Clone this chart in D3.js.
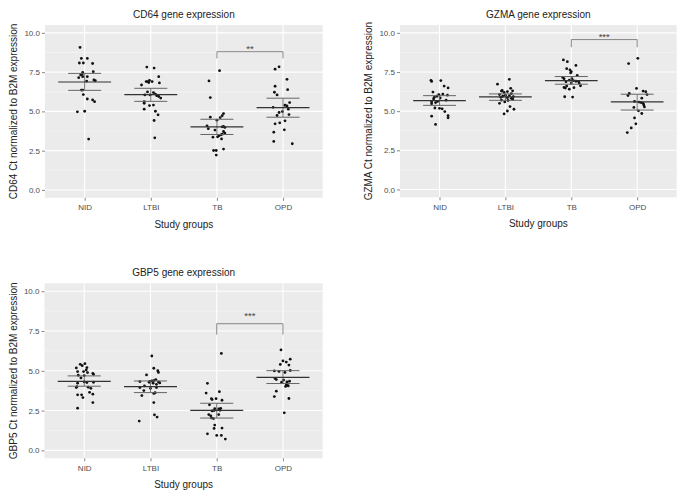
<!DOCTYPE html>
<html><head><meta charset="utf-8">
<script src="https://cdn.jsdelivr.net/npm/d3@7/dist/d3.min.js"></script>
<style>
body{margin:0;background:#fff;}
svg{display:block;font-family:"Liberation Sans",Arial,Helvetica,sans-serif;}
</style>
</head><body>
<svg id="chart" width="690" height="501"></svg>
<script>
// ---------- data (value, horizontal jitter in category steps) ----------
const categories = ["NID", "LTBI", "TB", "OPD"];
const yTicks = [0, 2.5, 5, 7.5, 10];
const yMinorTicks = [1.25, 3.75, 6.25, 8.75];

const cd64NID = [[9.07,-0.07],[8.37,-0.05],[8.37,0.04],[8.08,-0.08],[8.08,-0.02],[8.05,0.12],[7.53,0.13],[7.48,-0.03],[7.36,-0.04],[7.32,-0.06],[7.21,-0.03],[7.21,0.04],[7.15,-0.09],[7.00,0.14],[6.96,0.16],[6.93,0.03],[6.36,-0.05],[6.36,-0.03],[6.07,-0.02],[5.79,0.04],[5.73,0.12],[5.62,0.15],[4.97,-0.11],[5.01,0.0],[3.24,0.06]];
const cd64LTBI = [[7.82,-0.06],[7.76,0.05],[7.21,0.12],[6.68,-0.14],[6.90,-0.07],[6.90,-0.05],[6.98,-0.02],[6.90,0.02],[6.84,-0.03],[6.81,0.13],[6.24,-0.05],[6.05,-0.09],[6.05,-0.01],[6.20,0.04],[6.10,0.07],[6.00,0.09],[5.95,0.12],[5.85,0.15],[5.62,-0.10],[5.52,-0.10],[5.37,-0.02],[5.40,0.04],[5.14,-0.10],[5.01,0.07],[4.78,0.11],[4.42,0.05],[3.32,0.06]];
const cd64TB = [[7.59,0.04],[6.94,-0.12],[5.88,-0.10],[4.86,0.10],[4.73,0.08],[4.61,0.05],[4.63,-0.10],[4.44,0.0],[4.08,-0.15],[4.04,0.10],[4.02,0.08],[3.98,0.12],[3.90,-0.13],[3.81,-0.03],[3.72,0.10],[3.62,0.12],[3.55,0.08],[3.51,0.06],[3.45,0.03],[3.36,-0.06],[3.38,0.01],[3.25,0.07],[2.60,0.10],[2.51,-0.05],[2.51,-0.01],[2.22,-0.01]];
const cd64OPD = [[7.69,-0.12],[7.84,-0.06],[7.04,0.06],[6.60,-0.12],[6.38,0.07],[6.22,-0.13],[6.05,-0.09],[5.56,0.10],[5.39,0.03],[5.35,0.06],[5.26,-0.15],[5.14,0.08],[4.99,-0.01],[4.93,-0.06],[4.80,0.09],[4.74,-0.09],[4.40,0.03],[4.27,-0.05],[4.21,-0.12],[3.83,0.02],[3.68,-0.14],[3.09,-0.14],[2.94,0.14]];
const cd64Mean = [6.87, 6.07, 4.02, 5.24];
const cd64Lower = [6.34, 5.64, 3.53, 4.63];
const cd64Upper = [7.42, 6.47, 4.50, 5.84];

const gzmaNID = [[6.97,-0.13],[6.90,-0.12],[6.95,0.02],[6.60,0.07],[6.48,0.13],[6.22,-0.10],[6.06,-0.01],[6.09,0.05],[6.02,0.12],[5.88,-0.08],[5.78,-0.09],[5.84,0.01],[5.95,-0.04],[5.70,0.10],[5.60,-0.12],[5.48,-0.12],[5.55,-0.06],[5.62,-0.03],[5.20,-0.07],[5.18,0.0],[5.15,0.04],[4.97,0.08],[4.68,-0.12],[4.72,0.13],[4.58,0.13],[4.15,-0.06]];
const gzmaLTBI = [[7.03,0.06],[6.72,-0.12],[6.46,0.08],[6.32,-0.05],[6.28,-0.06],[6.30,0.11],[6.25,0.03],[6.20,-0.02],[6.12,0.09],[6.06,-0.09],[6.02,0.0],[5.99,0.06],[5.95,-0.04],[5.93,0.12],[5.88,-0.07],[5.86,0.03],[5.82,0.09],[5.76,0.11],[5.70,-0.06],[5.68,0.04],[5.59,-0.01],[5.50,-0.09],[5.29,0.07],[5.12,0.13],[5.01,0.03],[4.82,-0.02]];
const gzmaTB = [[8.27,-0.12],[8.16,-0.06],[7.92,0.07],[7.71,-0.07],[7.63,-0.02],[7.52,0.0],[7.44,-0.01],[7.28,0.09],[7.15,-0.13],[7.07,-0.11],[7.07,0.01],[6.98,-0.03],[6.95,0.03],[6.91,0.07],[6.88,-0.08],[6.79,0.0],[6.90,0.11],[6.79,0.12],[6.60,-0.07],[6.51,-0.11],[6.47,-0.09],[6.50,0.04],[6.62,0.14],[6.40,-0.03],[5.92,-0.10],[5.90,0.02]];
const gzmaOPD = [[8.37,0.01],[8.04,-0.13],[6.45,-0.01],[6.28,0.09],[6.24,0.13],[6.13,-0.12],[6.00,-0.14],[6.06,0.15],[5.83,0.07],[5.62,-0.04],[5.58,0.03],[5.55,0.06],[5.50,0.09],[5.40,0.10],[5.27,0.11],[5.24,-0.05],[5.02,0.02],[4.85,0.07],[4.57,-0.04],[4.19,-0.02],[3.93,-0.09],[3.63,-0.15]];
const gzmaMean = [5.67, 5.91, 6.95, 5.59];
const gzmaLower = [5.37, 5.69, 6.72, 5.07];
const gzmaUpper = [5.99, 6.10, 7.21, 6.08];

const gbp5NID = [[5.45,0.01],[5.41,-0.06],[5.32,-0.03],[5.18,-0.12],[5.20,0.04],[5.05,0.03],[4.95,-0.10],[4.95,-0.01],[4.89,0.05],[4.84,0.13],[4.78,0.14],[4.72,-0.09],[4.70,0.0],[4.55,-0.05],[4.30,0.0],[4.28,0.14],[4.22,-0.10],[4.26,0.04],[3.97,0.06],[4.00,-0.11],[3.95,-0.12],[3.90,0.10],[3.65,0.08],[3.49,-0.10],[3.49,-0.04],[3.53,0.13],[3.32,-0.02],[3.00,0.13],[2.65,-0.10]];
const gbp5LTBI = [[5.93,0.02],[5.16,0.05],[5.01,0.11],[4.90,0.12],[4.74,-0.06],[4.45,0.08],[4.38,0.05],[4.32,-0.16],[4.33,-0.01],[4.36,0.02],[4.28,-0.02],[4.30,0.12],[4.24,0.14],[4.22,0.04],[4.15,0.09],[4.05,-0.09],[3.95,-0.16],[3.95,0.09],[3.90,0.0],[3.76,-0.10],[3.62,0.07],[3.58,0.05],[3.44,-0.13],[3.00,0.05],[2.23,0.06],[2.09,0.10],[1.84,-0.17]];
const gbp5TB = [[6.09,0.07],[4.21,-0.14],[3.69,0.04],[3.60,-0.16],[3.25,-0.08],[3.19,-0.07],[3.25,-0.01],[3.15,0.08],[2.86,-0.11],[2.62,-0.03],[2.60,0.03],[2.64,0.06],[2.52,0.05],[2.48,-0.07],[2.50,-0.04],[2.25,-0.12],[2.17,-0.09],[2.04,-0.08],[2.25,0.03],[2.00,-0.05],[1.59,-0.03],[1.38,-0.04],[1.40,0.08],[1.04,-0.14],[0.94,0.0],[0.94,0.07],[0.71,0.13]];
const gbp5OPD = [[6.31,-0.03],[5.73,0.11],[5.62,0.0],[5.55,0.05],[5.40,-0.04],[5.36,0.09],[5.02,0.11],[4.99,-0.13],[4.96,-0.06],[4.90,0.03],[4.52,-0.12],[4.45,-0.10],[4.42,0.01],[4.35,0.10],[4.28,-0.02],[4.30,0.06],[4.20,0.07],[4.10,0.05],[4.05,0.08],[4.02,0.04],[3.72,-0.10],[3.38,-0.13],[3.26,0.09],[2.36,0.02]];
const gbp5Mean = [4.34, 4.01, 2.51, 4.59];
const gbp5Lower = [4.03, 3.63, 2.03, 4.20];
const gbp5Upper = [4.68, 4.36, 2.96, 5.01];

const sigPairs = [["TB","OPD"],["TB","OPD"],["TB","OPD"]];
const sigLabels = ["**", "***", "***"];
const sigHigh = [8.80, 9.57, 7.96];
const sigLow = [8.37, 9.08, 7.27];

const titles = ["CD64 gene expression", "GZMA gene expression", "GBP5 gene expression"];
const yTitles = ["CD64 Ct normalized to B2M expression", "GZMA Ct normalized to B2M expression", "GBP5 Ct normalized to B2M expression"];
const xTitle = "Study groups";

// ---------- drawing ----------
const svg = d3.select("#chart");
svg.append("rect").attr("width",690).attr("height",501).attr("fill","#fff");

const panels = [
  {left:45, right:322.7, top:25, bottom:197.8, groups:[cd64NID,cd64LTBI,cd64TB,cd64OPD], mean:cd64Mean, lo:cd64Lower, hi:cd64Upper, starLift:1.5},
  {left:400, right:676.7, top:25, bottom:197.3, groups:[gzmaNID,gzmaLTBI,gzmaTB,gzmaOPD], mean:gzmaMean, lo:gzmaLower, hi:gzmaUpper, starLift:1.5},
  {left:44.5, right:322.7, top:283.3, bottom:458.3, groups:[gbp5NID,gbp5LTBI,gbp5TB,gbp5OPD], mean:gbp5Mean, lo:gbp5Lower, hi:gbp5Upper, starLift:6}
];

panels.forEach((p, i) => {
  const g = svg.append("g");
  const x = d3.scalePoint().domain(categories).range([p.left, p.right]).padding(0.6);
  const y = d3.scaleLinear().domain([-0.5, 10.5]).range([p.bottom, p.top]);
  const step = x.step();

  g.append("rect").attr("x",p.left).attr("y",p.top)
    .attr("width",p.right-p.left).attr("height",p.bottom-p.top).attr("fill","#EBEBEB");

  g.selectAll(".minor").data(yMinorTicks).enter().append("line")
    .attr("x1",p.left).attr("x2",p.right).attr("y1",d=>y(d)).attr("y2",d=>y(d))
    .attr("stroke","#F7F7F7").attr("stroke-width",0.6);
  g.selectAll(".major").data(yTicks).enter().append("line")
    .attr("x1",p.left).attr("x2",p.right).attr("y1",d=>y(d)).attr("y2",d=>y(d))
    .attr("stroke","#fff").attr("stroke-width",1.1);
  g.selectAll(".vmajor").data(categories).enter().append("line")
    .attr("y1",p.top).attr("y2",p.bottom).attr("x1",d=>x(d)).attr("x2",d=>x(d))
    .attr("stroke","#fff").attr("stroke-width",1.1);

  // axes
  const ya = g.append("g").attr("transform",`translate(${p.left},0)`)
    .call(d3.axisLeft(y).tickValues(yTicks).tickFormat(d3.format(".1f")).tickSize(3).tickPadding(2));
  const xa = g.append("g").attr("transform",`translate(0,${p.bottom})`)
    .call(d3.axisBottom(x).tickSize(3).tickPadding(4));
  [ya, xa].forEach(a => {
    a.select(".domain").remove();
    a.selectAll(".tick line").attr("stroke","#555").attr("stroke-width",0.7);
    a.selectAll(".tick text").attr("fill","#4D4D4D").attr("font-size","8px")
      .attr("font-family","'Liberation Sans',Arial,sans-serif");
  });

  // points
  p.groups.forEach((pts, k) => {
    g.selectAll(null).data(pts).enter().append("circle")
      .attr("cx", d => x(categories[k]) + d[1]*step)
      .attr("cy", d => y(d[0]))
      .attr("r", 1.4).attr("fill","#111");
  });

  // summary bars
  categories.forEach((c, k) => {
    const cx = x(c);
    g.append("line").attr("x1",cx).attr("x2",cx).attr("y1",y(p.lo[k])).attr("y2",y(p.hi[k]))
      .attr("stroke","#666").attr("stroke-width",0.9);
    [p.lo[k], p.hi[k]].forEach(v => {
      g.append("line").attr("x1",cx-0.25*step).attr("x2",cx+0.25*step)
        .attr("y1",y(v)).attr("y2",y(v)).attr("stroke","#666").attr("stroke-width",1);
    });
    g.append("line").attr("x1",cx-0.4*step).attr("x2",cx+0.4*step)
      .attr("y1",y(p.mean[k])).attr("y2",y(p.mean[k])).attr("stroke","#333").attr("stroke-width",1.2);
  });

  // significance bracket
  const x1 = x(sigPairs[i][0]), x2 = x(sigPairs[i][1]);
  g.append("path")
    .attr("d", `M${x1},${y(sigLow[i])}V${y(sigHigh[i])}H${x2}V${y(sigLow[i])}`)
    .attr("fill","none").attr("stroke","#7a7a7a").attr("stroke-width",0.9);
  g.append("text").attr("x",(x1+x2)/2).attr("y",y(sigHigh[i]) + 1.5 - p.starLift)
    .attr("text-anchor","middle").attr("font-size","9.5px").attr("fill","#444").text(sigLabels[i]);

  // titles
  const cxp = (p.left+p.right)/2;
  g.append("text").attr("x",cxp).attr("y",p.top-7).attr("text-anchor","middle")
    .attr("font-size","10px").attr("fill","#222").text(titles[i]);
  g.append("text").attr("x",cxp).attr("y",p.bottom+30).attr("text-anchor","middle")
    .attr("font-size","10px").attr("fill","#222").text(xTitle);
  g.append("text").attr("transform",`translate(${p.left-28},${(p.top+p.bottom)/2}) rotate(-90)`)
    .attr("text-anchor","middle").attr("font-size","10px").attr("fill","#222").text(yTitles[i]);
});
</script>
</body></html>
